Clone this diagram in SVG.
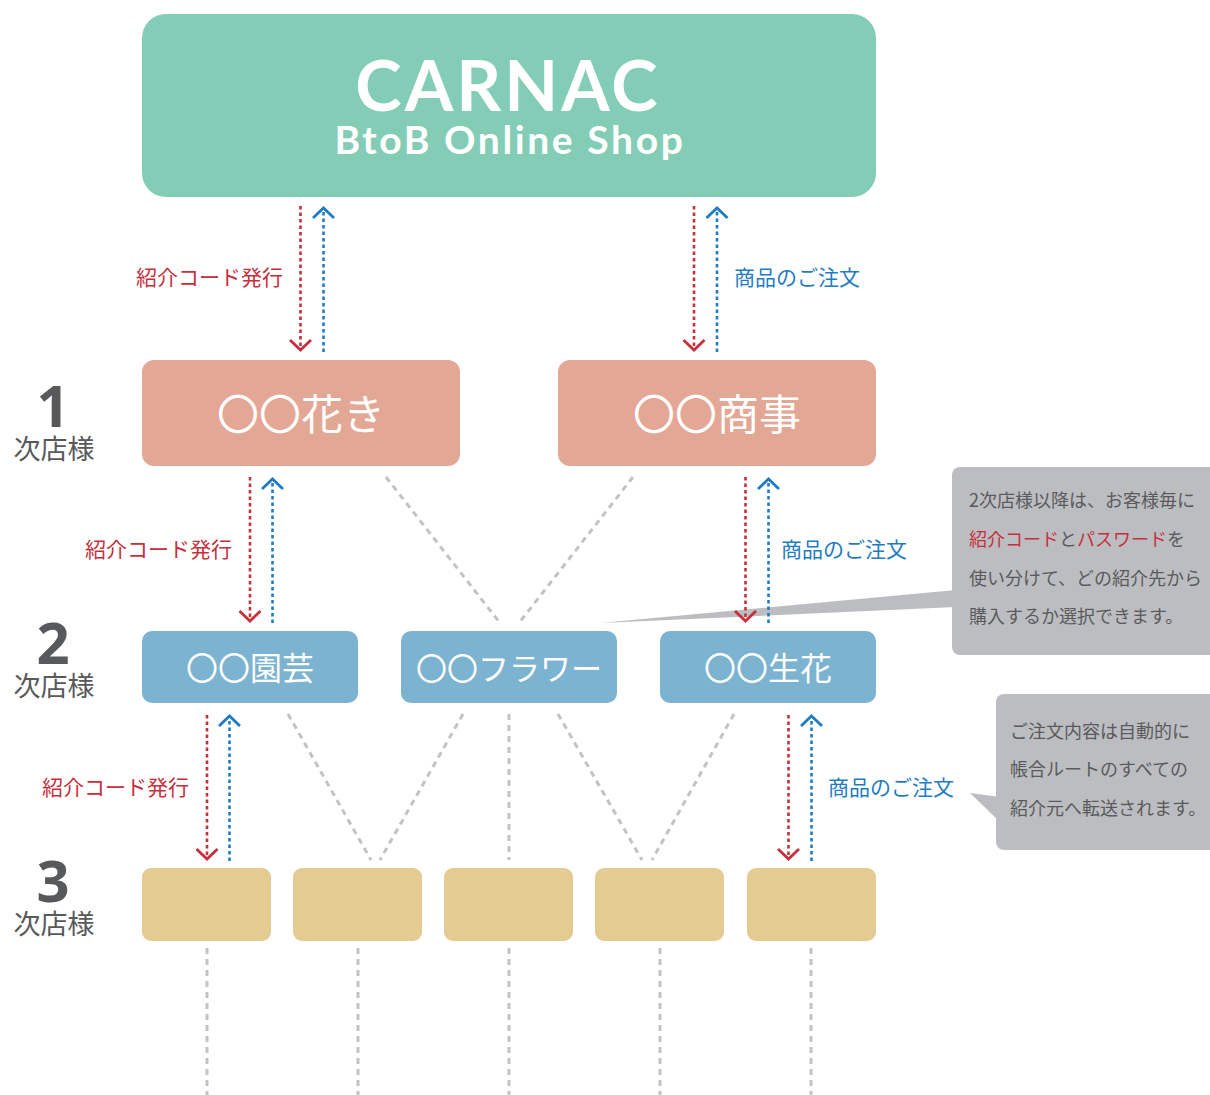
<svg xmlns="http://www.w3.org/2000/svg" width="1210" height="1095" viewBox="0 0 1210 1095">
<defs>
<style>
.jp{font-family:"Noto Sans CJK JP","Noto Sans",sans-serif}
.red{fill:#c62f3c}
.blue{fill:#1f7cc2}
.lv{font-family:"Noto Sans","DejaVu Sans",sans-serif;font-weight:bold;fill:#58595b;text-anchor:middle}
.lvj{font-family:"Noto Sans CJK JP",sans-serif;fill:#58595b;text-anchor:middle;font-size:27px}
.ntx{font-family:"Noto Sans CJK JP",sans-serif;fill:#fff;text-anchor:middle}
.t1{fill:#e3a895}
.t2{fill:#7bb3d0}
.t3{fill:#e3cb91}
.dr{stroke:#c62f3c;stroke-width:2.6;stroke-dasharray:3.5 3;fill:none;marker-end:url(#mr)}
.db{stroke:#1f7cc2;stroke-width:2.6;stroke-dasharray:3.5 3;fill:none;marker-end:url(#mb)}
.gl{stroke:#c3c3c5;stroke-width:3;stroke-dasharray:6 5;fill:none}
.ct{font-family:"Noto Sans CJK JP",sans-serif;font-size:18px;fill:#5a5a5c}
.co{fill:#bcbdc1}
</style>
<marker id="mr" markerUnits="userSpaceOnUse" markerWidth="30" markerHeight="30" viewBox="-15 -15 30 30" refX="0" refY="0" orient="auto"><path d="M-10,-10.5 L0,0 L-10,10.5" fill="none" stroke="#c62f3c" stroke-width="2.8"/></marker>
<marker id="mb" markerUnits="userSpaceOnUse" markerWidth="30" markerHeight="30" viewBox="-15 -15 30 30" refX="0" refY="0" orient="auto"><path d="M-10,-10.5 L0,0 L-10,10.5" fill="none" stroke="#1f7cc2" stroke-width="2.8"/></marker>
</defs>
<rect width="1210" height="1095" fill="#fff"/>

<g id="callout1">
<polygon class="co" points="600,623 956,590 956,607"/>
<rect class="co" x="952" y="467" width="270" height="188" rx="8"/>
<text class="ct" x="969" y="507">2次店様以降は、お客様毎に</text>
<text class="ct" x="969" y="546"><tspan class="red">紹介コード</tspan>と<tspan class="red">パスワード</tspan>を</text>
<text class="ct" x="969" y="585">使い分けて、どの紹介先から</text>
<text class="ct" x="969" y="623">購入するか選択できます。</text>
</g>
<g id="callout2">
<polygon class="co" points="970,793 1000,797 1000,822"/>
<rect class="co" x="996" y="694" width="226" height="156" rx="8"/>
<text class="ct" x="1010" y="738">ご注文内容は自動的に</text>
<text class="ct" x="1010" y="776">帳合ルートのすべての</text>
<text class="ct" x="1010" y="815">紹介元へ転送されます。</text>
</g>

<g id="connectors">
<line class="dr" x1="300.5" y1="206" x2="300.5" y2="350"/>
<line class="db" x1="323.5" y1="352" x2="323.5" y2="208"/>
<line class="dr" x1="694" y1="206" x2="694" y2="350"/>
<line class="db" x1="717" y1="352" x2="717" y2="208"/>
<line class="dr" x1="250" y1="477" x2="250" y2="621"/>
<line class="db" x1="272.5" y1="623" x2="272.5" y2="479"/>
<line class="dr" x1="745.5" y1="477" x2="745.5" y2="621"/>
<line class="db" x1="768.5" y1="623" x2="768.5" y2="479"/>
<line class="dr" x1="207" y1="715" x2="207" y2="859"/>
<line class="db" x1="229.5" y1="861" x2="229.5" y2="716"/>
<line class="dr" x1="788.5" y1="715" x2="788.5" y2="859"/>
<line class="db" x1="811.5" y1="861" x2="811.5" y2="716"/>
<line class="gl" x1="386" y1="477" x2="500" y2="623"/>
<line class="gl" x1="633" y1="477" x2="519" y2="623"/>
<line class="gl" x1="288" y1="714" x2="371" y2="860"/>
<line class="gl" x1="463" y1="714" x2="380" y2="860"/>
<line class="gl" x1="509" y1="714" x2="509" y2="860"/>
<line class="gl" x1="558" y1="714" x2="642" y2="860"/>
<line class="gl" x1="734" y1="714" x2="652" y2="860"/>
<line class="gl" x1="207" y1="948" x2="207" y2="1095"/>
<line class="gl" x1="358" y1="948" x2="358" y2="1095"/>
<line class="gl" x1="509" y1="948" x2="509" y2="1095"/>
<line class="gl" x1="660" y1="948" x2="660" y2="1095"/>
<line class="gl" x1="811" y1="948" x2="811" y2="1095"/>
<text class="jp red" x="283" y="285" font-size="21" text-anchor="end">紹介コード発行</text>
<text class="jp blue" x="734" y="285" font-size="21">商品のご注文</text>
<text class="jp red" x="232" y="557" font-size="21" text-anchor="end">紹介コード発行</text>
<text class="jp blue" x="781" y="557" font-size="21">商品のご注文</text>
<text class="jp red" x="189" y="795" font-size="21" text-anchor="end">紹介コード発行</text>
<text class="jp blue" x="828" y="795" font-size="21">商品のご注文</text>
</g>

<g id="carnac">
<rect x="142" y="14" width="734" height="183" rx="24" fill="#83cdb7"/>
<text x="508" y="111" text-anchor="middle" font-family="Lato,'Noto Sans',sans-serif" font-weight="bold" font-size="70" letter-spacing="3" fill="#fff">CARNAC</text>
<text x="510" y="154" text-anchor="middle" font-family="Lato,'Noto Sans',sans-serif" font-weight="bold" font-size="39" letter-spacing="2.6" fill="#fff">BtoB Online Shop</text>
</g>

<g id="levels">
<text class="lv" x="53" y="427" font-size="58">1</text>
<text class="lvj" x="54" y="459">次店様</text>
<text class="lv" x="53" y="664" font-size="58">2</text>
<text class="lvj" x="54" y="696">次店様</text>
<text class="lv" x="53" y="902" font-size="58">3</text>
<text class="lvj" x="54" y="934">次店様</text>
</g>

<g id="n-hanaki"><rect class="t1" x="142" y="360" width="318" height="106" rx="12"/><text class="ntx" x="301" y="430" font-size="42">〇〇花き</text></g>
<g id="n-shoji"><rect class="t1" x="558" y="360" width="318" height="106" rx="12"/><text class="ntx" x="717" y="430" font-size="42">〇〇商事</text></g>

<g id="n-engei"><rect class="t2" x="142" y="631" width="216" height="72" rx="10"/><text class="ntx" x="250" y="680" font-size="32">〇〇園芸</text></g>
<g id="n-flower"><rect class="t2" x="401" y="631" width="216" height="72" rx="10"/><text class="ntx" x="509" y="680" font-size="31">〇〇フラワー</text></g>
<g id="n-seika"><rect class="t2" x="660" y="631" width="216" height="72" rx="10"/><text class="ntx" x="768" y="680" font-size="32">〇〇生花</text></g>

<g id="n3-1"><rect class="t3" x="142" y="868" width="129" height="73" rx="9"/></g>
<g id="n3-2"><rect class="t3" x="293" y="868" width="129" height="73" rx="9"/></g>
<g id="n3-3"><rect class="t3" x="444" y="868" width="129" height="73" rx="9"/></g>
<g id="n3-4"><rect class="t3" x="595" y="868" width="129" height="73" rx="9"/></g>
<g id="n3-5"><rect class="t3" x="747" y="868" width="129" height="73" rx="9"/></g>
</svg>
